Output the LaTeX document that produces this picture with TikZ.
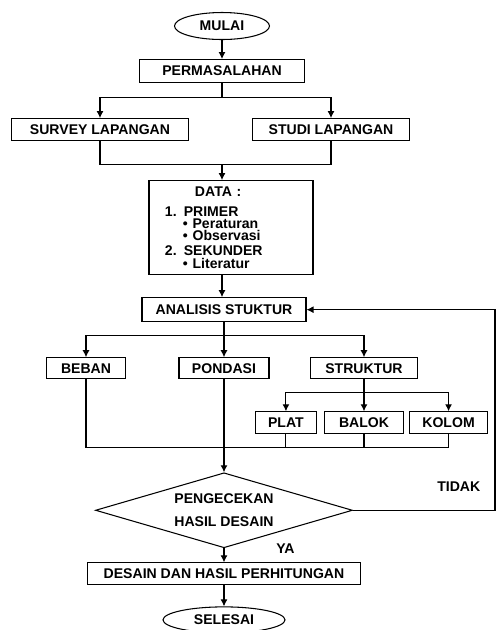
\documentclass[tikz,border=0pt]{standalone}
\usepackage{fontspec}
\setmainfont{Liberation Sans}
\usepackage{tikz}
\usetikzlibrary{arrows.meta, positioning, shapes.geometric}

\begin{document}
\begin{tikzpicture}[
      line width=0.6pt,
      box/.style={draw, align=center, inner sep=1pt,
        minimum height=0.44cm, font=\bfseries\fontsize{8}{9.6}\selectfont},
      term/.style={draw, ellipse, inner sep=1pt, minimum height=0.54cm,
        font=\bfseries\fontsize{8}{9.6}\selectfont},
      decision/.style={draw, diamond, aspect=3.43, inner sep=0pt, align=center,
        minimum width=5.14cm, minimum height=1.5cm,
        font=\bfseries\fontsize{8}{9.6}\selectfont},
      lbl/.style={font=\bfseries\fontsize{8}{9.6}\selectfont, inner sep=1pt},
      arr/.style={-{Latex[length=1.4mm, width=1.4mm]}}
    ]
    \useasboundingbox (0,0) rectangle (9.92,-12.6);

    \node[term, minimum width=1.9cm] (mulai) at (4.44,-0.52) {MULAI};
    \node[box, minimum width=3.3cm, minimum height=0.46cm, below=0.38cm of mulai] (perm) {PERMASALAHAN};
    \node[box, minimum width=3.54cm, below=0.7cm of perm, xshift=-2.44cm] (survey) {SURVEY LAPANGAN};
    \node[box, minimum width=3.14cm, below=0.7cm of perm, xshift=2.18cm] (studi) {STUDI LAPANGAN};
    \node[box, minimum width=3.28cm, minimum height=1.88cm, text width=2.64cm,
      inner xsep=0.32cm, align=left, font=\bfseries\fontsize{8}{6.8}\selectfont,
      below=1.94cm of perm, xshift=0.18cm] (data) {\hspace*{0.6cm}DATA :\\[4.5pt]%
      1. PRIMER\\%
      \hspace*{0.36cm}\textbullet\ Peraturan\\%
      \hspace*{0.36cm}\textbullet\ Observasi\\[1.7pt]%
      2. SEKUNDER\\[0.6pt]%
      \hspace*{0.36cm}\textbullet\ Literatur};
    \node[box, minimum width=3.28cm, minimum height=0.48cm, below=0.44cm of data, xshift=-0.14cm] (anal) {ANALISIS STUKTUR};

    \node[box, minimum width=1.8cm, minimum height=0.42cm, below=0.7cm of anal] (pondasi) {PONDASI};
    \node[box, minimum width=1.58cm, minimum height=0.42cm, below=0.7cm of anal, xshift=-2.76cm] (beban) {BEBAN};
    \node[box, minimum width=2.14cm, minimum height=0.42cm, below=0.7cm of anal, xshift=2.8cm] (struktur) {STRUKTUR};

    \node[box, minimum width=1.58cm, below=0.64cm of struktur] (balok) {BALOK};
    \node[box, minimum width=1.22cm, left=0.14cm of balok] (plat) {PLAT};
    \node[box, minimum width=1.56cm, right=0.1cm of balok] (kolom) {KOLOM};

    \node[decision, below=1.86cm of pondasi] (cek) {PENGECEKAN\\[3.5pt]HASIL DESAIN};
    \node[box, minimum width=5.46cm, below=0.28cm of cek] (desain) {DESAIN DAN HASIL PERHITUNGAN};
    \node[term, minimum width=2.44cm, minimum height=0.52cm, below=0.42cm of desain] (selesai) {SELESAI};
    \node[lbl, right=1cm of cek.south] (ya) {YA};

    \coordinate[below=0.28cm of perm] (s1);
    \coordinate[below=0.46cm of survey] (j1);
    \coordinate[below=0.26cm of anal] (s2);
    \coordinate[below=0.26cm of struktur] (s3);
    \coordinate[below=0.26cm of plat] (j2);
    \coordinate (edge) at (9.9,0);

    \draw[arr] (mulai) -- (perm);
    \draw (perm) -- (s1);
    \draw[arr] (s1) -| (survey);
    \draw[arr] (s1) -| (studi);
    \draw (survey) -- (j1) -| (studi);
    \draw[arr] (j1 -| perm) -- (perm |- data.north);
    \draw[arr] (perm |- data.south) -- (perm |- anal.north);
    \draw (anal) -- (s2);
    \draw[arr] (s2) -| (beban);
    \draw[arr] (s2) -- (pondasi);
    \draw[arr] (s2) -| (struktur);
    \draw (struktur) -- (s3);
    \draw[arr] (s3) -| (plat);
    \draw[arr] (s3) -- (balok);
    \draw[arr] (s3) -| (kolom);
    \draw (beban) |- (kolom |- j2) -- (kolom);
    \draw (plat) -- (j2);
    \draw (balok) -- (balok |- j2);
    \draw[arr] (pondasi) -- (cek);
    \draw[arr] (cek) -- (desain);
    \draw[arr] (desain) -- (selesai);
    \draw[arr] (cek.east) -- node[lbl, pos=0.745, above=0.32cm] {TIDAK} (cek.east -| edge) |- (anal.east);
  \end{tikzpicture}
\end{document}
